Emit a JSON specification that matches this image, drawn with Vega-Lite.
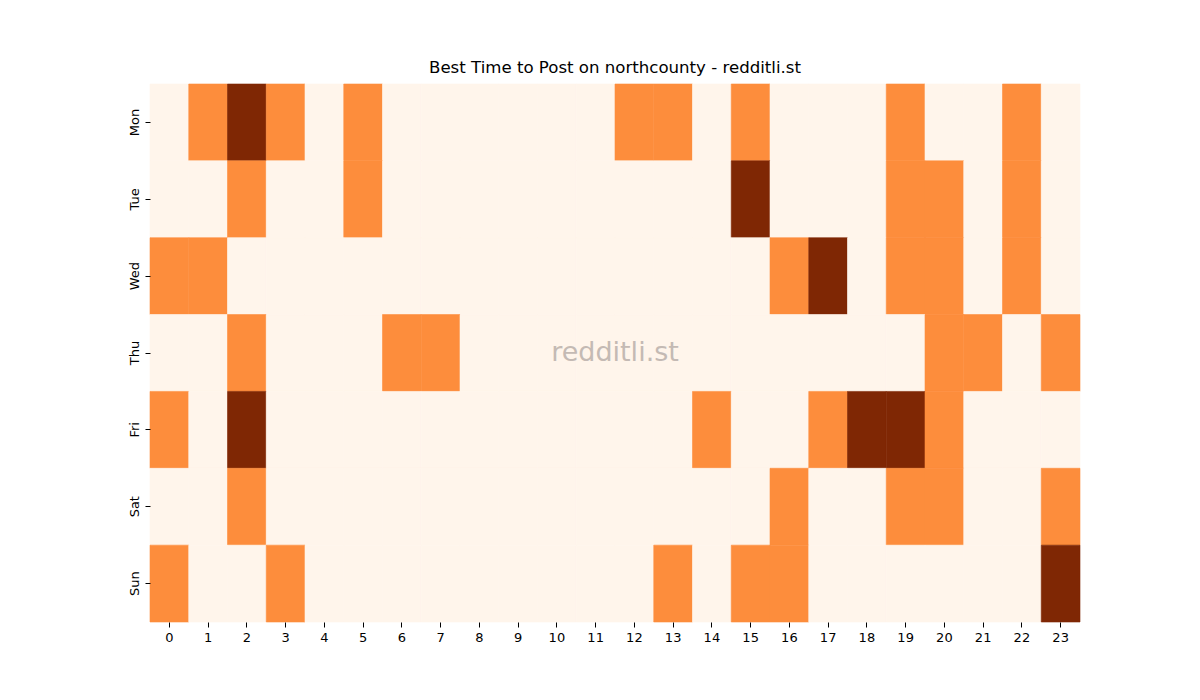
{
  "$schema": "https://vega.github.io/schema/vega-lite/v6.json",
  "width": 930,
  "height": 538,
  "autosize": "none",
  "padding": {"left": 150, "top": 84, "right": 120, "bottom": 78},
  "background": "white",
  "title": {
    "text": "Best Time to Post on northcounty - redditli.st",
    "font": "DejaVu Sans",
    "fontSize": 16.6,
    "fontWeight": "normal",
    "color": "black",
    "offset": 7
  },
  "layer": [
    {
      "data": {
        "values": [
          {"d":"Mon","h":0,"v":0},{"d":"Mon","h":1,"v":1},{"d":"Mon","h":2,"v":2},{"d":"Mon","h":3,"v":1},{"d":"Mon","h":4,"v":0},{"d":"Mon","h":5,"v":1},{"d":"Mon","h":6,"v":0},{"d":"Mon","h":7,"v":0},{"d":"Mon","h":8,"v":0},{"d":"Mon","h":9,"v":0},{"d":"Mon","h":10,"v":0},{"d":"Mon","h":11,"v":0},{"d":"Mon","h":12,"v":1},{"d":"Mon","h":13,"v":1},{"d":"Mon","h":14,"v":0},{"d":"Mon","h":15,"v":1},{"d":"Mon","h":16,"v":0},{"d":"Mon","h":17,"v":0},{"d":"Mon","h":18,"v":0},{"d":"Mon","h":19,"v":1},{"d":"Mon","h":20,"v":0},{"d":"Mon","h":21,"v":0},{"d":"Mon","h":22,"v":1},{"d":"Mon","h":23,"v":0},
          {"d":"Tue","h":0,"v":0},{"d":"Tue","h":1,"v":0},{"d":"Tue","h":2,"v":1},{"d":"Tue","h":3,"v":0},{"d":"Tue","h":4,"v":0},{"d":"Tue","h":5,"v":1},{"d":"Tue","h":6,"v":0},{"d":"Tue","h":7,"v":0},{"d":"Tue","h":8,"v":0},{"d":"Tue","h":9,"v":0},{"d":"Tue","h":10,"v":0},{"d":"Tue","h":11,"v":0},{"d":"Tue","h":12,"v":0},{"d":"Tue","h":13,"v":0},{"d":"Tue","h":14,"v":0},{"d":"Tue","h":15,"v":2},{"d":"Tue","h":16,"v":0},{"d":"Tue","h":17,"v":0},{"d":"Tue","h":18,"v":0},{"d":"Tue","h":19,"v":1},{"d":"Tue","h":20,"v":1},{"d":"Tue","h":21,"v":0},{"d":"Tue","h":22,"v":1},{"d":"Tue","h":23,"v":0},
          {"d":"Wed","h":0,"v":1},{"d":"Wed","h":1,"v":1},{"d":"Wed","h":2,"v":0},{"d":"Wed","h":3,"v":0},{"d":"Wed","h":4,"v":0},{"d":"Wed","h":5,"v":0},{"d":"Wed","h":6,"v":0},{"d":"Wed","h":7,"v":0},{"d":"Wed","h":8,"v":0},{"d":"Wed","h":9,"v":0},{"d":"Wed","h":10,"v":0},{"d":"Wed","h":11,"v":0},{"d":"Wed","h":12,"v":0},{"d":"Wed","h":13,"v":0},{"d":"Wed","h":14,"v":0},{"d":"Wed","h":15,"v":0},{"d":"Wed","h":16,"v":1},{"d":"Wed","h":17,"v":2},{"d":"Wed","h":18,"v":0},{"d":"Wed","h":19,"v":1},{"d":"Wed","h":20,"v":1},{"d":"Wed","h":21,"v":0},{"d":"Wed","h":22,"v":1},{"d":"Wed","h":23,"v":0},
          {"d":"Thu","h":0,"v":0},{"d":"Thu","h":1,"v":0},{"d":"Thu","h":2,"v":1},{"d":"Thu","h":3,"v":0},{"d":"Thu","h":4,"v":0},{"d":"Thu","h":5,"v":0},{"d":"Thu","h":6,"v":1},{"d":"Thu","h":7,"v":1},{"d":"Thu","h":8,"v":0},{"d":"Thu","h":9,"v":0},{"d":"Thu","h":10,"v":0},{"d":"Thu","h":11,"v":0},{"d":"Thu","h":12,"v":0},{"d":"Thu","h":13,"v":0},{"d":"Thu","h":14,"v":0},{"d":"Thu","h":15,"v":0},{"d":"Thu","h":16,"v":0},{"d":"Thu","h":17,"v":0},{"d":"Thu","h":18,"v":0},{"d":"Thu","h":19,"v":0},{"d":"Thu","h":20,"v":1},{"d":"Thu","h":21,"v":1},{"d":"Thu","h":22,"v":0},{"d":"Thu","h":23,"v":1},
          {"d":"Fri","h":0,"v":1},{"d":"Fri","h":1,"v":0},{"d":"Fri","h":2,"v":2},{"d":"Fri","h":3,"v":0},{"d":"Fri","h":4,"v":0},{"d":"Fri","h":5,"v":0},{"d":"Fri","h":6,"v":0},{"d":"Fri","h":7,"v":0},{"d":"Fri","h":8,"v":0},{"d":"Fri","h":9,"v":0},{"d":"Fri","h":10,"v":0},{"d":"Fri","h":11,"v":0},{"d":"Fri","h":12,"v":0},{"d":"Fri","h":13,"v":0},{"d":"Fri","h":14,"v":1},{"d":"Fri","h":15,"v":0},{"d":"Fri","h":16,"v":0},{"d":"Fri","h":17,"v":1},{"d":"Fri","h":18,"v":2},{"d":"Fri","h":19,"v":2},{"d":"Fri","h":20,"v":1},{"d":"Fri","h":21,"v":0},{"d":"Fri","h":22,"v":0},{"d":"Fri","h":23,"v":0},
          {"d":"Sat","h":0,"v":0},{"d":"Sat","h":1,"v":0},{"d":"Sat","h":2,"v":1},{"d":"Sat","h":3,"v":0},{"d":"Sat","h":4,"v":0},{"d":"Sat","h":5,"v":0},{"d":"Sat","h":6,"v":0},{"d":"Sat","h":7,"v":0},{"d":"Sat","h":8,"v":0},{"d":"Sat","h":9,"v":0},{"d":"Sat","h":10,"v":0},{"d":"Sat","h":11,"v":0},{"d":"Sat","h":12,"v":0},{"d":"Sat","h":13,"v":0},{"d":"Sat","h":14,"v":0},{"d":"Sat","h":15,"v":0},{"d":"Sat","h":16,"v":1},{"d":"Sat","h":17,"v":0},{"d":"Sat","h":18,"v":0},{"d":"Sat","h":19,"v":1},{"d":"Sat","h":20,"v":1},{"d":"Sat","h":21,"v":0},{"d":"Sat","h":22,"v":0},{"d":"Sat","h":23,"v":1},
          {"d":"Sun","h":0,"v":1},{"d":"Sun","h":1,"v":0},{"d":"Sun","h":2,"v":0},{"d":"Sun","h":3,"v":1},{"d":"Sun","h":4,"v":0},{"d":"Sun","h":5,"v":0},{"d":"Sun","h":6,"v":0},{"d":"Sun","h":7,"v":0},{"d":"Sun","h":8,"v":0},{"d":"Sun","h":9,"v":0},{"d":"Sun","h":10,"v":0},{"d":"Sun","h":11,"v":0},{"d":"Sun","h":12,"v":0},{"d":"Sun","h":13,"v":1},{"d":"Sun","h":14,"v":0},{"d":"Sun","h":15,"v":1},{"d":"Sun","h":16,"v":1},{"d":"Sun","h":17,"v":0},{"d":"Sun","h":18,"v":0},{"d":"Sun","h":19,"v":0},{"d":"Sun","h":20,"v":0},{"d":"Sun","h":21,"v":0},{"d":"Sun","h":22,"v":0},{"d":"Sun","h":23,"v":2}
        ]
      },
      "mark": {"type": "rect", "strokeWidth": 0.6},
      "encoding": {
        "x": {
          "field": "h",
          "type": "ordinal",
          "title": null,
          "scale": {"paddingInner": 0, "paddingOuter": 0},
          "axis": {
            "labelAngle": 0,
            "labelFont": "DejaVu Sans",
            "labelFontSize": 13,
            "labelColor": "black",
            "labelPadding": 4,
            "tickSize": 5,
            "tickColor": "black",
            "domain": false,
            "grid": false
          }
        },
        "y": {
          "field": "d",
          "type": "ordinal",
          "title": null,
          "sort": ["Mon", "Tue", "Wed", "Thu", "Fri", "Sat", "Sun"],
          "scale": {"paddingInner": 0, "paddingOuter": 0},
          "axis": {
            "labelAngle": -90,
            "labelAlign": "center",
            "labelBaseline": "bottom",
            "labelFont": "DejaVu Sans",
            "labelFontSize": 13,
            "labelColor": "black",
            "labelPadding": 4,
            "tickSize": 5,
            "tickColor": "black",
            "domain": false,
            "grid": false
          }
        },
        "color": {
          "field": "v",
          "type": "ordinal",
          "legend": null,
          "scale": {"domain": [0, 1, 2], "range": ["#fff5eb", "#fd8d3c", "#7f2704"]}
        },
        "stroke": {
          "field": "v",
          "type": "ordinal",
          "legend": null,
          "scale": {"domain": [0, 1, 2], "range": ["#fff5eb", "#fd8d3c", "#7f2704"]}
        }
      }
    },
    {
      "data": {"values": [{"t": "redditli.st"}]},
      "mark": {
        "type": "text",
        "x": {"expr": "width/2"},
        "y": {"expr": "height/2"},
        "align": "center",
        "baseline": "middle",
        "font": "DejaVu Sans",
        "fontSize": 27,
        "color": "#c4bab4"
      },
      "encoding": {"text": {"field": "t"}}
    }
  ],
  "config": {"view": {"stroke": null}}
}
